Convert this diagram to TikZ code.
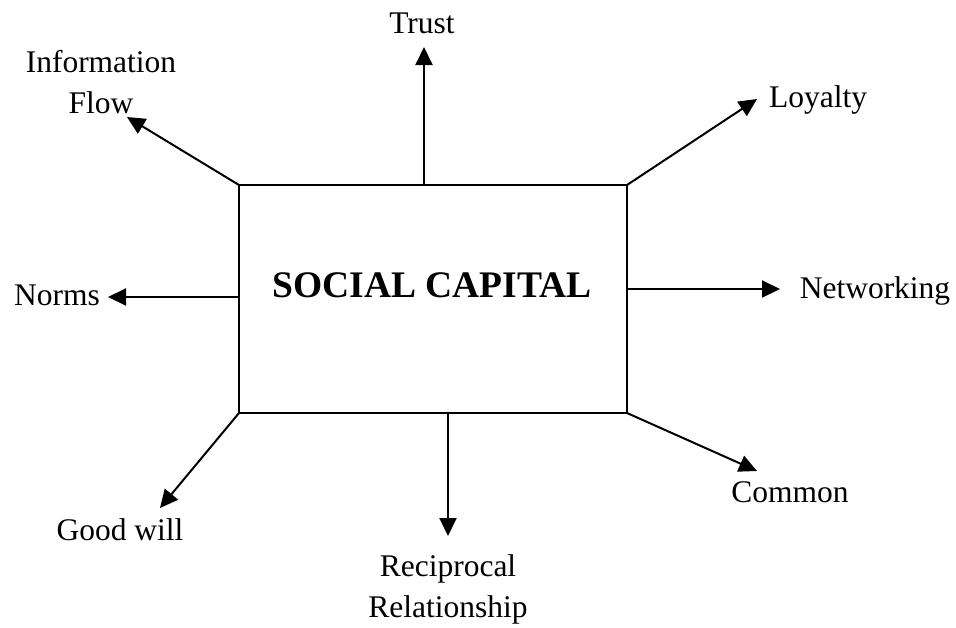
\documentclass[tikz,border=0pt]{standalone}
\usepackage{fontspec}
\setmainfont{Liberation Serif}
\usetikzlibrary{arrows.meta}
\begin{document}
\begin{tikzpicture}[x=1pt,y=-1pt,
  arr/.style={line width=2pt,-{Triangle[length=18pt,width=17pt]}},
  lbl/.style={anchor=base,inner sep=0pt,align=center,font=\fontsize{31.5}{41}\selectfont},
  core/.style={draw,line width=2pt,outer sep=0pt,inner sep=0pt,minimum width=388pt,minimum height=228pt}]
\useasboundingbox (0,0) rectangle (956,627);
% central box and its title
\node[core] (box) at (433,299) {};
\node[anchor=base,inner sep=0pt,font=\fontsize{37.5}{44}\selectfont\bfseries] (title) at (432,297) {SOCIAL CAPITAL};
% arrow tips
\coordinate (tTrust) at (424,47);
\coordinate (tInfo) at (127,117);
\coordinate (tLoyal) at (757,99);
\coordinate (tNorms) at (108,297);
\coordinate (tNet) at (780,289);
\coordinate (tGood) at (160,508);
\coordinate (tRecip) at (448,536);
\coordinate (tCommon) at (757,471);
% labels
\node[lbl] (trust) at (422,33) {Trust};
\node[lbl] (info) at (101,113) {Information\\Flow};
\node[lbl] (loyal) at (818,107) {Loyalty};
\node[lbl] (norms) at (57,305) {Norms};
\node[lbl] (net) at (875,298) {Networking};
\node[lbl] (good) at (120,540) {Good will};
\node[lbl] (recip) at (448,617) {Reciprocal\\Relationship};
\node[lbl] (common) at (790,502) {Common};
% connectors
\draw[arr] (box.north -| tTrust) -- (tTrust);
\draw[arr] (box.north west) -- (tInfo);
\draw[arr] (box.north east) -- (tLoyal);
\draw[arr] (box.west |- tNorms) -- (tNorms);
\draw[arr] (box.east |- tNet) -- (tNet);
\draw[arr] (box.south west) -- (tGood);
\draw[arr] (box.south -| tRecip) -- (tRecip);
\draw[arr] (box.south east) -- (tCommon);
\end{tikzpicture}
\end{document}
